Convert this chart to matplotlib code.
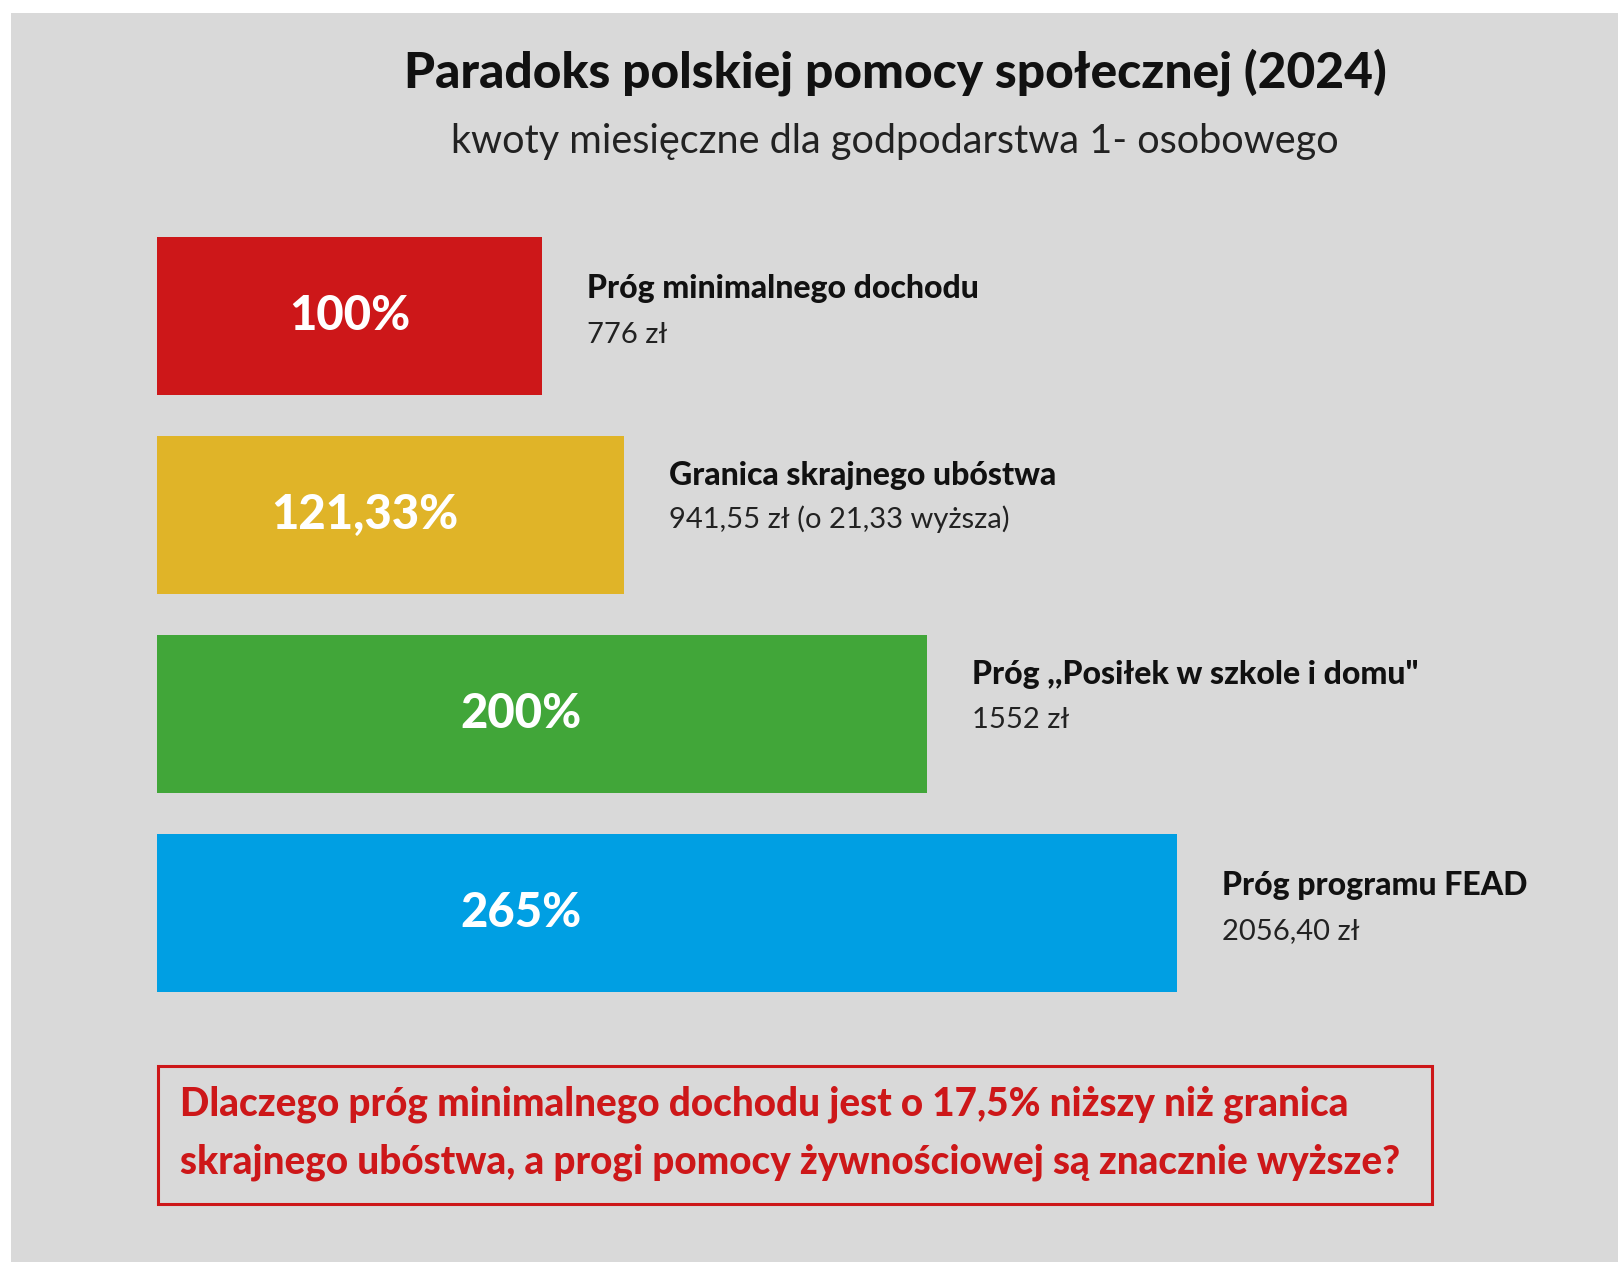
import matplotlib
matplotlib.use("Agg")
import matplotlib.pyplot as plt
from matplotlib.patches import Rectangle

# ---- data ----
categories = ["Próg minimalnego dochodu", "Granica skrajnego ubóstwa",
              'Próg ,,Posiłek w szkole i domu"', "Próg programu FEAD"]
percent_values = [100, 121.33, 200, 265]
pct_labels = ["100%", "121,33%", "200%", "265%"]
amount_labels = ["776 zł", "941,55 zł (o 21,33 wyższa)", "1552 zł", "2056,40 zł"]
bar_colors = ["#CD1719", "#E0B428", "#41A639", "#009FE3"]

title = "Paradoks polskiej pomocy społecznej (2024)"
subtitle = "kwoty miesięczne dla godpodarstwa 1- osobowego"
question_lines = ["Dlaczego próg minimalnego dochodu jest o 17,5% niższy niż granica",
                  "skrajnego ubóstwa, a progi pomocy żywnościowej są znacznie wyższe?"]

# ---- layout ----
W, H, DPI = 1618, 1262, 100
FONT = "Lato"
BG = "#D9D9D9"
pct_label_x = [50, 54, 94.5, 94.5]          # data units, label anchor inside bar
title_dy = [-0.14, -0.20, -0.20, -0.14]     # row units
value_dy = [0.095, 0.02, 0.03, 0.09]

fig = plt.figure(figsize=(W / DPI, H / DPI), dpi=DPI, facecolor="white")
fig.patches.append(Rectangle((11 / W, 0), 1 - 11 / W, 1 - 13 / H,
                             transform=fig.transFigure, facecolor=BG,
                             edgecolor="none", zorder=0))

left_px = 157
px_per_unit = 3.85
ax = fig.add_axes([left_px / W, 0, 1 - left_px / W, 1])
ax.set_zorder(1)
ax.set_facecolor("none")
ax.set_xlim(0, (W - left_px) / px_per_unit)
row_px, first_px = 199, 316
ax.set_ylim((H - first_px) / row_px, -first_px / row_px)
ax.axis("off")

ys = list(range(len(categories)))
ax.barh(ys, percent_values, height=158 / row_px, color=bar_colors, left=0)

off = 45 / px_per_unit
for i, y in enumerate(ys):
    ax.text(pct_label_x[i], y, pct_labels[i], color="white", fontsize=34,
            fontweight="black", family=FONT, ha="center", va="center")
    ax.text(percent_values[i] + off, y + title_dy[i], categories[i], color="#111111",
            fontsize=23, fontweight="black", family=FONT, ha="left", va="center")
    ax.text(percent_values[i] + off, y + value_dy[i], amount_labels[i], color="#222222",
            fontsize=21, fontweight="normal", family=FONT, ha="left", va="center")

fig.text(895 / W, 1 - 72 / H, title, fontsize=35.7, fontweight="black", family=FONT,
         color="#111111", ha="center", va="center", zorder=3)
fig.text(895 / W, 1 - 142 / H, subtitle, fontsize=28.5, fontweight="normal", family=FONT,
         color="#222222", ha="center", va="center", zorder=3)

# question box
bx0, bx1, by0, by1 = 158, 1432, 1066, 1204
fig.patches.append(Rectangle((bx0 / W, 1 - by1 / H), (bx1 - bx0) / W, (by1 - by0) / H,
                             transform=fig.transFigure, facecolor="none",
                             edgecolor="#CD1719", linewidth=2.2, zorder=2))
for k, line in enumerate(question_lines):
    fig.text(180 / W, 1 - (1104 + 58 * k) / H, line, fontsize=27.8, fontweight="black",
             family=FONT, color="#CD1719", ha="left", va="center", zorder=3)

fig.savefig("out.png", dpi=DPI, facecolor="white")
